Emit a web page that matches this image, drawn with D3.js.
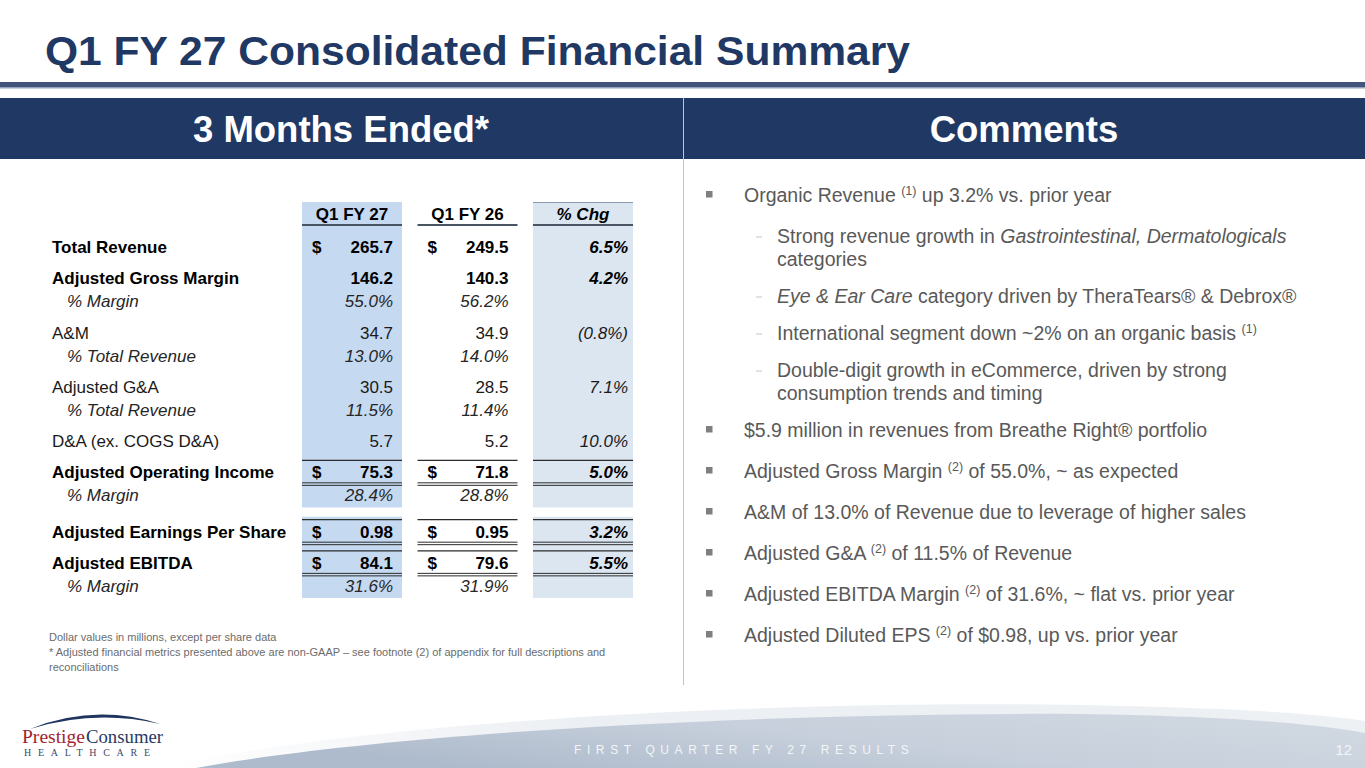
<!DOCTYPE html>
<html>
<head>
<meta charset="utf-8">
<script src="https://cdn.jsdelivr.net/npm/d3@7"></script>
<style>
  html, body { margin: 0; padding: 0; background: #fff; overflow: hidden; }
  svg { display: block; font-family: "Liberation Sans", Arial, sans-serif; }
</style>
</head>
<body>
<svg id="slide" width="1365" height="768"></svg>
<script>
// table data
const columns = ["Q1 FY 27", "Q1 FY 26", "% Chg"];
const rowLabels = [
  "Total Revenue", "Adjusted Gross Margin", "% Margin", "A&M", "% Total Revenue",
  "Adjusted G&A", "% Total Revenue", "D&A (ex. COGS D&A)", "Adjusted Operating Income",
  "% Margin", "Adjusted Earnings Per Share", "Adjusted EBITDA", "% Margin"
];
const rowKinds = ["dollar", "bold", "pct", "plain", "pct", "plain", "pct", "plain", "boxed", "pct", "boxed", "boxed", "pct"];
const fy27Values = [265.7, 146.2, 55.0, 34.7, 13.0, 30.5, 11.5, 5.7, 75.3, 28.4, 0.98, 84.1, 31.6];
const fy26Values = [249.5, 140.3, 56.2, 34.9, 14.0, 28.5, 11.4, 5.2, 71.8, 28.8, 0.95, 79.6, 31.9];
const changeValues = [6.5, 4.2, null, -0.8, null, 7.1, null, 10.0, 5.0, null, 3.2, 5.5, null];
const valueDecimals = [1, 1, 1, 1, 1, 1, 1, 1, 1, 1, 2, 1, 1];

// comments (^..^ = superscript, _.._ = italic)
const commentItems = [
  { level: 1, lines: ["Organic Revenue ^(1)^ up 3.2% vs. prior year"] },
  { level: 2, lines: ["Strong revenue growth in _Gastrointestinal, Dermatologicals_", "categories"] },
  { level: 2, lines: ["_Eye & Ear Care_ category driven by TheraTears® & Debrox®"] },
  { level: 2, lines: ["International segment down ~2% on an organic basis ^(1)^"] },
  { level: 2, lines: ["Double-digit growth in eCommerce, driven by strong", "consumption trends and timing"] },
  { level: 1, lines: ["$5.9 million in revenues from Breathe Right® portfolio"] },
  { level: 1, lines: ["Adjusted Gross Margin ^(2)^ of 55.0%, ~ as expected"] },
  { level: 1, lines: ["A&M of 13.0% of Revenue due to leverage of higher sales"] },
  { level: 1, lines: ["Adjusted G&A ^(2)^ of 11.5% of Revenue"] },
  { level: 1, lines: ["Adjusted EBITDA Margin ^(2)^ of 31.6%, ~ flat vs. prior year"] },
  { level: 1, lines: ["Adjusted Diluted EPS ^(2)^ of $0.98, up vs. prior year"] }
];

const footnoteLines = [
  "Dollar values in millions, except per share data",
  "* Adjusted financial metrics presented above are non-GAAP \u2013 see footnote (2) of appendix for full descriptions and",
  "reconciliations"
];

const titleText = "Q1 FY 27 Consolidated Financial Summary";
const leftHeader = "3 Months Ended*";
const rightHeader = "Comments";
const footerText = "FIRST QUARTER FY 27 RESULTS";
const pageNumber = "12";

const width = 1365;
const height = 768;
const navy = "#1f3864";

const svg = d3.select("#slide");
const defs = svg.append("defs");

// ---------- title & header band ----------
svg.append("text")
  .attr("x", 45).attr("y", 65)
  .attr("font-size", 40).attr("font-weight", "bold")
  .attr("fill", navy)
  .attr("textLength", 865).attr("lengthAdjust", "spacingAndGlyphs")
  .text(titleText);

svg.append("rect").attr("x", 0).attr("y", 82).attr("width", width).attr("height", 5).attr("fill", "#41567a");
svg.append("rect").attr("x", 0).attr("y", 87).attr("width", width).attr("height", 1.5).attr("fill", "#93a3bb");

svg.append("rect").attr("x", 0).attr("y", 98).attr("width", width).attr("height", 61).attr("fill", navy);

svg.append("text")
  .attr("x", 341).attr("y", 142)
  .attr("text-anchor", "middle")
  .attr("font-size", 36.5).attr("font-weight", "bold").attr("fill", "#fff")
  .text(leftHeader);

svg.append("text")
  .attr("x", 1024).attr("y", 142)
  .attr("text-anchor", "middle")
  .attr("font-size", 36.5).attr("font-weight", "bold").attr("fill", "#fff")
  .text(rightHeader);

svg.append("line")
  .attr("x1", 683.5).attr("x2", 683.5).attr("y1", 98).attr("y2", 685)
  .attr("stroke", "#c4c4c4").attr("stroke-width", 1);

// ---------- table ----------
const x = d3.scaleBand().domain(columns).range([302, 633]).paddingInner(0.134);

let acc = 0;
const slots = rowKinds.map((kind, i) => {
  if (i > 0) {
    acc += kind === "pct" ? 23 : (kind === "boxed" && rowKinds[i - 1] === "pct" ? 36 : 31);
  }
  return acc;
});
const y = d3.scaleLinear().domain([0, acc]).range([253, 592]);

const tableTop = 202;
const tableBottom = y(slots[slots.length - 1]) + 6;
const shadeColors = { "Q1 FY 27": "#c5d9f1", "Q1 FY 26": "none", "% Chg": "#dce6f1" };

const table = svg.append("g").attr("class", "table");

table.selectAll("rect.shade")
  .data(columns.filter((c) => shadeColors[c] !== "none"))
  .join("rect")
  .attr("class", "shade")
  .attr("x", (c) => x(c))
  .attr("y", tableTop)
  .attr("width", x.bandwidth())
  .attr("height", tableBottom - tableTop)
  .attr("fill", (c) => shadeColors[c]);

// white gap between operating margin and EPS block
const epsIndex = rowLabels.indexOf("Adjusted Earnings Per Share");
table.append("rect")
  .attr("x", 290).attr("width", 360)
  .attr("y", y(slots[epsIndex - 1]) + 6)
  .attr("height", (y(slots[epsIndex]) - 21) - (y(slots[epsIndex - 1]) + 6))
  .attr("fill", "#fff");

// header
table.append("line")
  .attr("x1", x("% Chg")).attr("x2", x("% Chg") + x.bandwidth())
  .attr("y1", tableTop + 0.5).attr("y2", tableTop + 0.5)
  .attr("stroke", "#8a9ab0").attr("stroke-width", 1);

table.selectAll("text.colhead")
  .data(columns)
  .join("text")
  .attr("class", "colhead")
  .attr("x", (c) => x(c) + x.bandwidth() / 2)
  .attr("y", 220)
  .attr("text-anchor", "middle")
  .attr("font-size", 17).attr("font-weight", "bold")
  .attr("font-style", (c) => (c === "% Chg" ? "italic" : "normal"))
  .attr("fill", "#000")
  .text((c) => c);

table.selectAll("line.colrule")
  .data(columns)
  .join("line")
  .attr("class", "colrule")
  .attr("x1", (c) => x(c)).attr("x2", (c) => x(c) + x.bandwidth())
  .attr("y1", 225).attr("y2", 225)
  .attr("stroke", "#4a5564").attr("stroke-width", 2);

// rows
const rows = rowLabels.map((label, i) => ({
  label,
  kind: rowKinds[i],
  values: [fy27Values[i], fy26Values[i]],
  change: changeValues[i],
  decimals: valueDecimals[i],
  yy: y(slots[i])
}));

function isBold(kind) { return kind === "dollar" || kind === "bold" || kind === "boxed"; }
function textColor(kind) { return isBold(kind) ? "#000" : (kind === "pct" ? "#262626" : "#1a1a1a"); }

function formatValue(row, v) {
  const s = d3.format(`.${row.decimals}f`)(v);
  return row.kind === "pct" ? s + "%" : s;
}
function formatChange(v) {
  const s = d3.format(".1f")(Math.abs(v)) + "%";
  return v < 0 ? `(${s})` : s;
}

const rowG = table.selectAll("g.row")
  .data(rows)
  .join("g")
  .attr("class", "row")
  .attr("font-size", 17)
  .attr("font-weight", (r) => (isBold(r.kind) ? "bold" : "normal"))
  .attr("fill", (r) => textColor(r.kind));

rowG.append("text")
  .attr("x", (r) => (r.kind === "pct" ? 67 : 52))
  .attr("y", (r) => r.yy)
  .attr("font-style", (r) => (r.kind === "pct" ? "italic" : "normal"))
  .text((r) => r.label);

columns.slice(0, 2).forEach((col, ci) => {
  rowG.append("text")
    .attr("x", x(col) + x.bandwidth() - 9)
    .attr("y", (r) => r.yy)
    .attr("text-anchor", "end")
    .attr("font-style", (r) => (r.kind === "pct" ? "italic" : "normal"))
    .text((r) => formatValue(r, r.values[ci]));

  rowG.filter((r) => r.kind === "dollar" || r.kind === "boxed")
    .append("text")
    .attr("x", x(col) + 10)
    .attr("y", (r) => r.yy)
    .text("$");
});

rowG.filter((r) => r.change !== null)
  .append("text")
  .attr("x", x("% Chg") + x.bandwidth() - 5)
  .attr("y", (r) => r.yy)
  .attr("text-anchor", "end")
  .attr("font-style", "italic")
  .text((r) => formatChange(r.change));

// rules around boxed rows
const boxed = rows.filter((r) => r.kind === "boxed");
columns.forEach((col) => {
  const x0 = x(col);
  const x1 = x(col) + x.bandwidth();
  table.selectAll(null)
    .data(boxed)
    .join("line")
    .attr("x1", x0).attr("x2", x1)
    .attr("y1", (r) => r.yy - 18).attr("y2", (r) => r.yy - 18)
    .attr("stroke", "#2b2b2b").attr("stroke-width", 1.3);
  [4.5, 7].forEach((off) => {
    table.selectAll(null)
      .data(boxed)
      .join("line")
      .attr("x1", x0).attr("x2", x1)
      .attr("y1", (r) => r.yy + off).attr("y2", (r) => r.yy + off)
      .attr("stroke", "#2b2b2b").attr("stroke-width", 1);
  });
});

// footnotes
svg.append("g")
  .selectAll("text")
  .data(footnoteLines)
  .join("text")
  .attr("x", 49)
  .attr("y", (d, i) => 641 + i * 15)
  .attr("font-size", 11)
  .attr("fill", "#6b6b6b")
  .text((d) => d);

// ---------- comments ----------
function parseMarkup(line) {
  return line.split(/(\^[^^]+\^|_[^_]+_)/).filter((p) => p.length).map((p) => {
    if (p.startsWith("^")) return { text: p.slice(1, -1), kind: "sup" };
    if (p.startsWith("_")) return { text: p.slice(1, -1), kind: "italic" };
    return { text: p, kind: "plain" };
  });
}

const comments = svg.append("g").attr("class", "comments").attr("fill", "#595959");
let baseline = 202;
commentItems.forEach((item, i) => {
  if (i > 0) {
    const prev = commentItems[i - 1];
    baseline += (item.level === 1 && prev.level === 1) || (item.level === 2 && prev.level === 1) ? 41 : 37;
  }
  if (item.level === 1) {
    comments.append("rect")
      .attr("x", 706).attr("y", baseline - 11)
      .attr("width", 6.5).attr("height", 6.5)
      .attr("fill", "#7f7f7f");
  } else {
    comments.append("line")
      .attr("x1", 756).attr("x2", 762)
      .attr("y1", baseline - 6).attr("y2", baseline - 6)
      .attr("stroke", "#c6c6c6").attr("stroke-width", 1);
  }
  item.lines.forEach((line, li) => {
    if (li > 0) baseline += 23;
    const t = comments.append("text")
      .attr("x", item.level === 1 ? 744 : 777)
      .attr("y", baseline)
      .attr("font-size", 19.5);
    let raised = false;
    parseMarkup(line).forEach((seg) => {
      const span = t.append("tspan").text(seg.text);
      if (seg.kind === "sup") {
        span.attr("font-size", 12.5).attr("dy", -7);
        raised = true;
      } else {
        if (raised) { span.attr("dy", 7); raised = false; }
        if (seg.kind === "italic") span.attr("font-style", "italic");
      }
    });
  });
});

// ---------- footer ----------
const hiGrad = defs.append("linearGradient").attr("id", "hiGrad").attr("x1", 0).attr("x2", 1).attr("y1", 0).attr("y2", 0);
hiGrad.append("stop").attr("offset", 0).attr("stop-color", "#ffffff");
hiGrad.append("stop").attr("offset", 0.35).attr("stop-color", "#eceff3");
hiGrad.append("stop").attr("offset", 1).attr("stop-color", "#eef1f4");

const bandGrad = defs.append("linearGradient").attr("id", "bandGrad").attr("x1", 0).attr("x2", 1).attr("y1", 0.4).attr("y2", 0);
bandGrad.append("stop").attr("offset", 0).attr("stop-color", "#aebbcc");
bandGrad.append("stop").attr("offset", 0.45).attr("stop-color", "#c6cfdb");
bandGrad.append("stop").attr("offset", 1).attr("stop-color", "#d3dae3");

svg.append("path")
  .attr("d", "M160,768 C360,722 760,700 1080,705 C1240,708 1320,714 1365,721 L1365,768 Z")
  .attr("fill", "url(#hiGrad)");
svg.append("path")
  .attr("d", "M196,768 C390,732 780,712 1080,714 C1240,716 1320,725 1365,733 L1365,768 Z")
  .attr("fill", "url(#bandGrad)");

svg.append("text")
  .attr("x", 574).attr("y", 754)
  .attr("font-size", 12).attr("letter-spacing", 5.6)
  .attr("fill", "#f3f5f8")
  .text(footerText);

svg.append("text")
  .attr("x", 1352).attr("y", 755)
  .attr("text-anchor", "end")
  .attr("font-size", 15).attr("fill", "#f3f5f8")
  .text(pageNumber);

// logo
const logo = svg.append("g").attr("class", "logo");
logo.append("path")
  .attr("d", "M30,729 Q95,703 160,724 Q95,709 30,729 Z")
  .attr("fill", "#1f3560");
logo.append("text")
  .attr("x", 22).attr("y", 743)
  .attr("font-family", "'Liberation Serif', 'Times New Roman', serif")
  .attr("font-size", 19).attr("fill", "#a11f30")
  .attr("textLength", 63).attr("lengthAdjust", "spacingAndGlyphs")
  .text("Prestige");
logo.append("text")
  .attr("x", 86).attr("y", 743)
  .attr("font-family", "'Liberation Serif', 'Times New Roman', serif")
  .attr("font-size", 19).attr("fill", "#253b66")
  .attr("textLength", 77).attr("lengthAdjust", "spacingAndGlyphs")
  .text("Consumer");
logo.append("text")
  .attr("x", 24).attr("y", 756)
  .attr("font-family", "'Liberation Serif', 'Times New Roman', serif")
  .attr("font-size", 10).attr("fill", "#3b4a6b")
  .attr("textLength", 126).attr("lengthAdjust", "spacing")
  .text("HEALTHCARE");
</script>
</body>
</html>
